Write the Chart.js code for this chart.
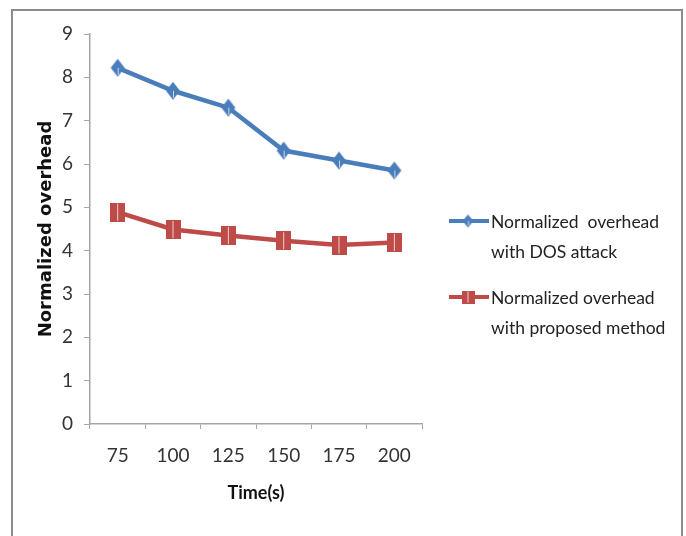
<!DOCTYPE html>
<html>
<head>
<meta charset="utf-8">
<script src="https://cdn.jsdelivr.net/npm/chart.js@4/dist/chart.umd.min.js"></script>
<style>
  html, body { margin: 0; padding: 0; background: #fff; }
  #wrap { position: relative; width: 686px; height: 536px; overflow: hidden; background: #fff; }
  #frame { position: absolute; left: 11px; top: 9px; width: 668px; height: 600px; border: 2px solid #8c8c8c; }
  #c { position: absolute; left: 0; top: 0; }
</style>
</head>
<body>
<div id="wrap">
  <div id="frame"></div>
  <canvas id="c" width="686" height="536"></canvas>
</div>
<script>
// Simulation time (s) on the x axis
const timeLabels = ['75', '100', '125', '150', '175', '200'];
// Normalized overhead per series
const dosOverhead = [8.22, 7.69, 7.30, 6.31, 6.08, 5.85];
const proposedOverhead = [4.89, 4.49, 4.35, 4.23, 4.13, 4.19];
// Legend text, two lines per series
const dosName = ['Normalized  overhead', 'with DOS attack'];
const proposedName = ['Normalized overhead', 'with proposed method'];
const yAxisTitle = 'Normalized overhead';
const xAxisTitle = 'Time(s)';

const BLUE = '#4A7EBB';
const RED = '#BE4B48';
const TEXT_FONT = 'Lato, "Open Sans", sans-serif';

// Marker sprites: a tall diamond and a tall square with a thin light seam
function diamondSprite(w, h, color) {
  const c = document.createElement('canvas');
  c.width = w + 2; c.height = h + 2;
  const g = c.getContext('2d');
  const cx = c.width / 2, cy = c.height / 2;
  g.fillStyle = color;
  g.beginPath();
  g.moveTo(cx, cy - h / 2);
  g.lineTo(cx + w / 2, cy);
  g.lineTo(cx, cy + h / 2);
  g.lineTo(cx - w / 2, cy);
  g.closePath();
  g.fill();
  g.strokeStyle = 'rgba(255,255,255,0.7)';
  g.lineWidth = 1;
  g.beginPath();
  g.moveTo(cx + 0.5, cy);
  g.lineTo(cx + 0.5, cy + h / 2 - 2);
  g.stroke();
  return c;
}
function squareSprite(w, h, color) {
  const c = document.createElement('canvas');
  c.width = w; c.height = h;
  const g = c.getContext('2d');
  g.fillStyle = color;
  g.fillRect(0, 0, w, h);
  g.fillStyle = 'rgba(255,255,255,0.75)';
  g.fillRect(Math.floor(w / 2), 1, 1, h - 2);
  return c;
}

const dosMarker = diamondSprite(14, 18, BLUE);
const proposedMarker = squareSprite(15, 19, RED);
const dosLegendMarker = diamondSprite(11, 13, BLUE);
const proposedLegendMarker = squareSprite(13, 13, RED);

// Two-line legend on the right of the plot
const sideLegend = {
  id: 'sideLegend',
  afterDraw(chart) {
    const ctx = chart.ctx;
    const entries = [
      { ds: chart.data.datasets[0], marker: dosLegendMarker, y: 221, lines: dosName },
      { ds: chart.data.datasets[1], marker: proposedLegendMarker, y: 297, lines: proposedName }
    ];
    ctx.save();
    entries.forEach(e => {
      ctx.strokeStyle = e.ds.borderColor;
      ctx.lineWidth = 4;
      ctx.beginPath();
      ctx.moveTo(449, e.y);
      ctx.lineTo(489, e.y);
      ctx.stroke();
      ctx.drawImage(e.marker, 468 - e.marker.width / 2, e.y - e.marker.height / 2);
      ctx.fillStyle = '#222';
      ctx.font = '17.5px ' + TEXT_FONT;
      ctx.textBaseline = 'middle';
      ctx.textAlign = 'left';
      e.lines.forEach((t, i) => ctx.fillText(t, 491, e.y + 1 + i * 30));
    });
    ctx.restore();
  }
};

new Chart(document.getElementById('c'), {
  type: 'line',
  data: {
    labels: timeLabels,
    datasets: [
      {
        label: dosName.join(' '),
        data: dosOverhead,
        borderColor: BLUE,
        backgroundColor: BLUE,
        borderWidth: 4.5,
        pointStyle: dosMarker,
        tension: 0
      },
      {
        label: proposedName.join(' '),
        data: proposedOverhead,
        borderColor: RED,
        backgroundColor: RED,
        borderWidth: 4.5,
        pointStyle: proposedMarker,
        tension: 0
      }
    ]
  },
  options: {
    responsive: false,
    animation: false,
    events: [],
    layout: { padding: { left: 0, top: 34, right: 264, bottom: 0 } },
    plugins: {
      legend: { display: false },
      tooltip: { enabled: false }
    },
    scales: {
      x: {
        offset: true,
        grid: { drawOnChartArea: false, offset: true, color: '#a6a6a6', tickLength: 5 },
        border: { color: '#a6a6a6', width: 1.5 },
        ticks: { color: '#333', font: { family: TEXT_FONT, size: 19 }, padding: 15, maxRotation: 0 },
        title: {
          display: true, text: xAxisTitle, color: '#111',
          font: { family: TEXT_FONT, size: 18, weight: 'bold' },
          padding: { top: 0, bottom: 32 }
        },
        afterFit(scale) { scale.height = 112; }
      },
      y: {
        min: 0, max: 9,
        grid: { drawOnChartArea: false, color: '#a6a6a6', tickLength: 6 },
        border: { color: '#a6a6a6', width: 1.5 },
        ticks: { stepSize: 1, color: '#333', font: { family: TEXT_FONT, size: 19 }, padding: 11 },
        title: {
          display: true, text: yAxisTitle, color: '#111',
          font: { family: '"DejaVu Sans", sans-serif', size: 18, weight: 'bold' },
          padding: { top: 36, bottom: 0 }
        },
        afterFit(scale) { scale.width = 90; }
      }
    }
  },
  plugins: [sideLegend]
});
</script>
</body>
</html>
